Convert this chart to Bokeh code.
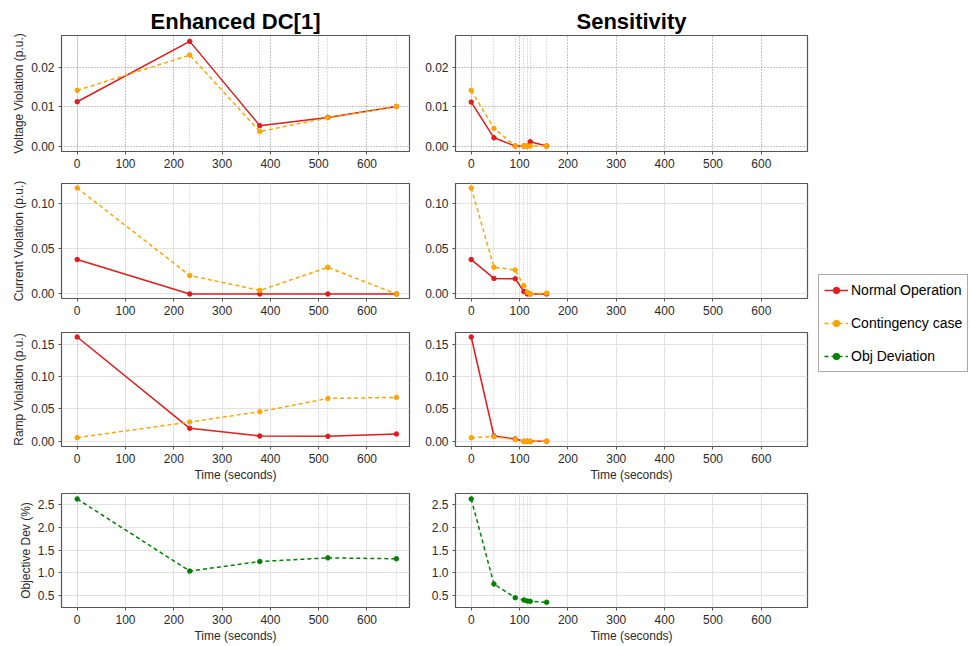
from bokeh.plotting import figure
from bokeh.layouts import row, column
from bokeh.models import Range1d, FixedTicker, PrintfTickFormatter, Legend, LegendItem
from bokeh.embed import file_html
from bokeh.resources import INLINE

# ---------------- data ----------------
t_dc = [0, 233, 378, 519, 661]
volt_dc_normal = [0.0113, 0.0267, 0.0052, 0.0073, 0.0101]
volt_dc_cont = [0.0142, 0.0232, 0.0037, 0.0072, 0.0101]
curr_dc_normal = [0.038, 0.0, 0.0, 0.0, 0.0]
curr_dc_cont = [0.117, 0.0204, 0.004, 0.0294, 0.0]
ramp_dc_normal = [0.161, 0.020, 0.0082, 0.0077, 0.0113]
ramp_dc_cont = [0.0057, 0.0298, 0.0457, 0.0662, 0.0678]
obj_dc = [2.62, 1.04, 1.25, 1.33, 1.31]

t_sens = [0, 47, 91, 109, 116, 122, 156]
volt_s_normal = [0.0112, 0.0021, 0.0, 0.0, 0.0, 0.0011, 0.0]
volt_s_cont = [0.0142, 0.0045, 0.0, 0.0, 0.0, 0.0, 0.0]
curr_s_normal = [0.038, 0.0172, 0.0168, 0.0026, 0.0, 0.0, 0.0]
curr_s_cont = [0.117, 0.0295, 0.0265, 0.009, 0.002, 0.0, 0.001]
ramp_s_normal = [0.161, 0.0082, 0.0036, 0.0, 0.0, 0.0, 0.0]
ramp_s_cont = [0.0057, 0.0072, 0.0026, 0.0, 0.0, 0.0, 0.0]
obj_s = [2.62, 0.757, 0.457, 0.407, 0.386, 0.379, 0.357]

x_ticks = [0, 100, 200, 300, 400, 500, 600]
volt_ticks = [0.0, 0.01, 0.02]
curr_ticks = [0.0, 0.05, 0.10]
ramp_ticks = [0.0, 0.05, 0.10, 0.15]
obj_ticks = [0.5, 1.0, 1.5, 2.0, 2.5]

col_titles = ["Enhanced DC[1]", "Sensitivity"]
y_labels = ["Voltage Violation (p.u.)", "Current Violation (p.u.)",
            "Ramp Violation (p.u.)", "Objective Dev (%)"]
x_label = "Time (seconds)"
series_names = ["Normal Operation", "Contingency case", "Obj Deviation"]

RED = "#e41a1c"
ORANGE = "#ffa500"
GREEN = "#008000"
FONT = "Liberation Sans"
TXT = "#2a2a2a"

# layout geometry (page has no margin in the bokeh template)
col_w = [418, 397]
col_borders = [(61, 9), (37, 8)]
x_ranges = [(-32.5, 688), (-32.5, 695.5)]
row_h = [175, 147, 163, 160]
row_borders = [(35, 24), (8, 24), (10, 39), (8, 35)]
y_ranges = [(-0.0014, 0.0282), (-0.005, 0.122), (-0.008, 0.168), (0.243, 2.74)]
y_ticks = [volt_ticks, curr_ticks, ramp_ticks, obj_ticks]
y_fmt = ["%.2f", "%.2f", "%.2f", "%.1f"]
TOTAL_H = sum(row_h)
LEG_W = 153


def make_panel(r, c, xs):
    p = figure(width=col_w[c], height=row_h[r],
               x_range=Range1d(*x_ranges[c]), y_range=Range1d(*y_ranges[r]),
               output_backend="svg", toolbar_location=None,
               title=col_titles[c] if r == 0 else None)
    p.min_border_left, p.min_border_right = col_borders[c]
    p.min_border_top, p.min_border_bottom = row_borders[r]
    p.background_fill_color = "white"
    p.border_fill_color = "white"
    p.outline_line_color = "#555555"
    p.outline_line_width = 1.2
    if r == 0:
        p.title.text_font = FONT
        p.title.text_font_size = "22px"
        p.title.text_font_style = "bold"
        p.title.text_color = "black"
        p.title.align = "center"
        p.title.standoff = 3
    for ax in (p.xaxis[0], p.yaxis[0]):
        ax.axis_line_color = None
        ax.major_tick_line_color = "#555555"
        ax.major_tick_out = 3
        ax.major_tick_in = 0
        ax.minor_tick_line_color = None
        ax.major_label_text_font = FONT
        ax.major_label_text_font_size = "12px"
        ax.major_label_text_color = TXT
        ax.major_label_standoff = 4
        ax.axis_label_text_font = FONT
        ax.axis_label_text_font_size = "12px"
        ax.axis_label_text_font_style = "normal"
        ax.axis_label_text_color = TXT
        ax.axis_label_standoff = 2
    p.xaxis.ticker = FixedTicker(ticks=x_ticks)
    p.yaxis.ticker = FixedTicker(ticks=y_ticks[r])
    p.yaxis.formatter = PrintfTickFormatter(format=y_fmt[r])
    if c == 0:
        p.yaxis.axis_label = y_labels[r]
    if r >= 2:
        p.xaxis.axis_label = x_label
    if r == 0:
        for g in (p.xgrid, p.ygrid):
            g.grid_line_color = "#8a8a8a"
            g.grid_line_dash = "1 2"
            g.grid_line_width = 1
        vcol = "#bdbdbd"
    else:
        for g in (p.xgrid, p.ygrid):
            g.grid_line_color = "#e2e2e2"
            g.grid_line_width = 1
        vcol = "#c8c8c8"
    p.vspan(x=xs, line_color=vcol, line_dash="1 2", line_width=1)
    return p


def add_series(p, xs, ys, color, dash):
    kw = dict(line_color=color, line_width=1.5)
    if dash:
        kw["line_dash"] = "4 3"
    p.line(xs, ys, **kw)
    p.scatter(xs, ys, marker="circle", size=4.5, fill_color=color, line_color=color)


data_rows = [
    [(volt_dc_normal, volt_dc_cont), (volt_s_normal, volt_s_cont)],
    [(curr_dc_normal, curr_dc_cont), (curr_s_normal, curr_s_cont)],
    [(ramp_dc_normal, ramp_dc_cont), (ramp_s_normal, ramp_s_cont)],
]
obj_data = [obj_dc, obj_s]
t_cols = [t_dc, t_sens]

rows = []
for r in range(4):
    figs = []
    for c in range(2):
        xs = t_cols[c]
        p = make_panel(r, c, xs)
        if r < 3:
            normal, cont = data_rows[r][c]
            add_series(p, xs, normal, RED, False)
            add_series(p, xs, cont, ORANGE, True)
        else:
            add_series(p, xs, obj_data[c], GREEN, True)
        figs.append(p)
    rows.append(row(*figs))

# legend figure (glyphs placed outside its visible range; only the legend shows)
lf = figure(width=LEG_W, height=TOTAL_H, x_range=Range1d(0, 1), y_range=Range1d(0, 1),
            x_axis_type=None, y_axis_type=None, output_backend="svg",
            toolbar_location=None, min_border=0)
lf.outline_line_color = None
lf.border_fill_color = "white"
items = []
for name, color, dash in zip(series_names, [RED, ORANGE, GREEN], [False, True, True]):
    kw = dict(line_color=color, line_width=1.5)
    if dash:
        kw["line_dash"] = "4 3"
    lr = lf.line([-5, -4], [-5, -5], **kw)
    sr = lf.scatter([-5], [-5], marker="circle", size=4.5, fill_color=color, line_color=color)
    items.append(LegendItem(label=name, renderers=[lr, sr]))
leg = Legend(items=items, location=(3, 273))
leg.border_line_color = "#555555"
leg.border_line_width = 1
leg.background_fill_color = "white"
leg.background_fill_alpha = 1
leg.label_text_font = FONT
leg.label_text_font_size = "14px"
leg.label_text_color = "black"
leg.glyph_width = 24
leg.glyph_height = 16
leg.label_height = 20
leg.label_standoff = 3
leg.spacing = 13
leg.padding = 5
leg.margin = 0
lf.add_layout(leg, "center")

layout = row(column(*rows), lf)

open("out.html", "w").write(file_html(layout, INLINE))
